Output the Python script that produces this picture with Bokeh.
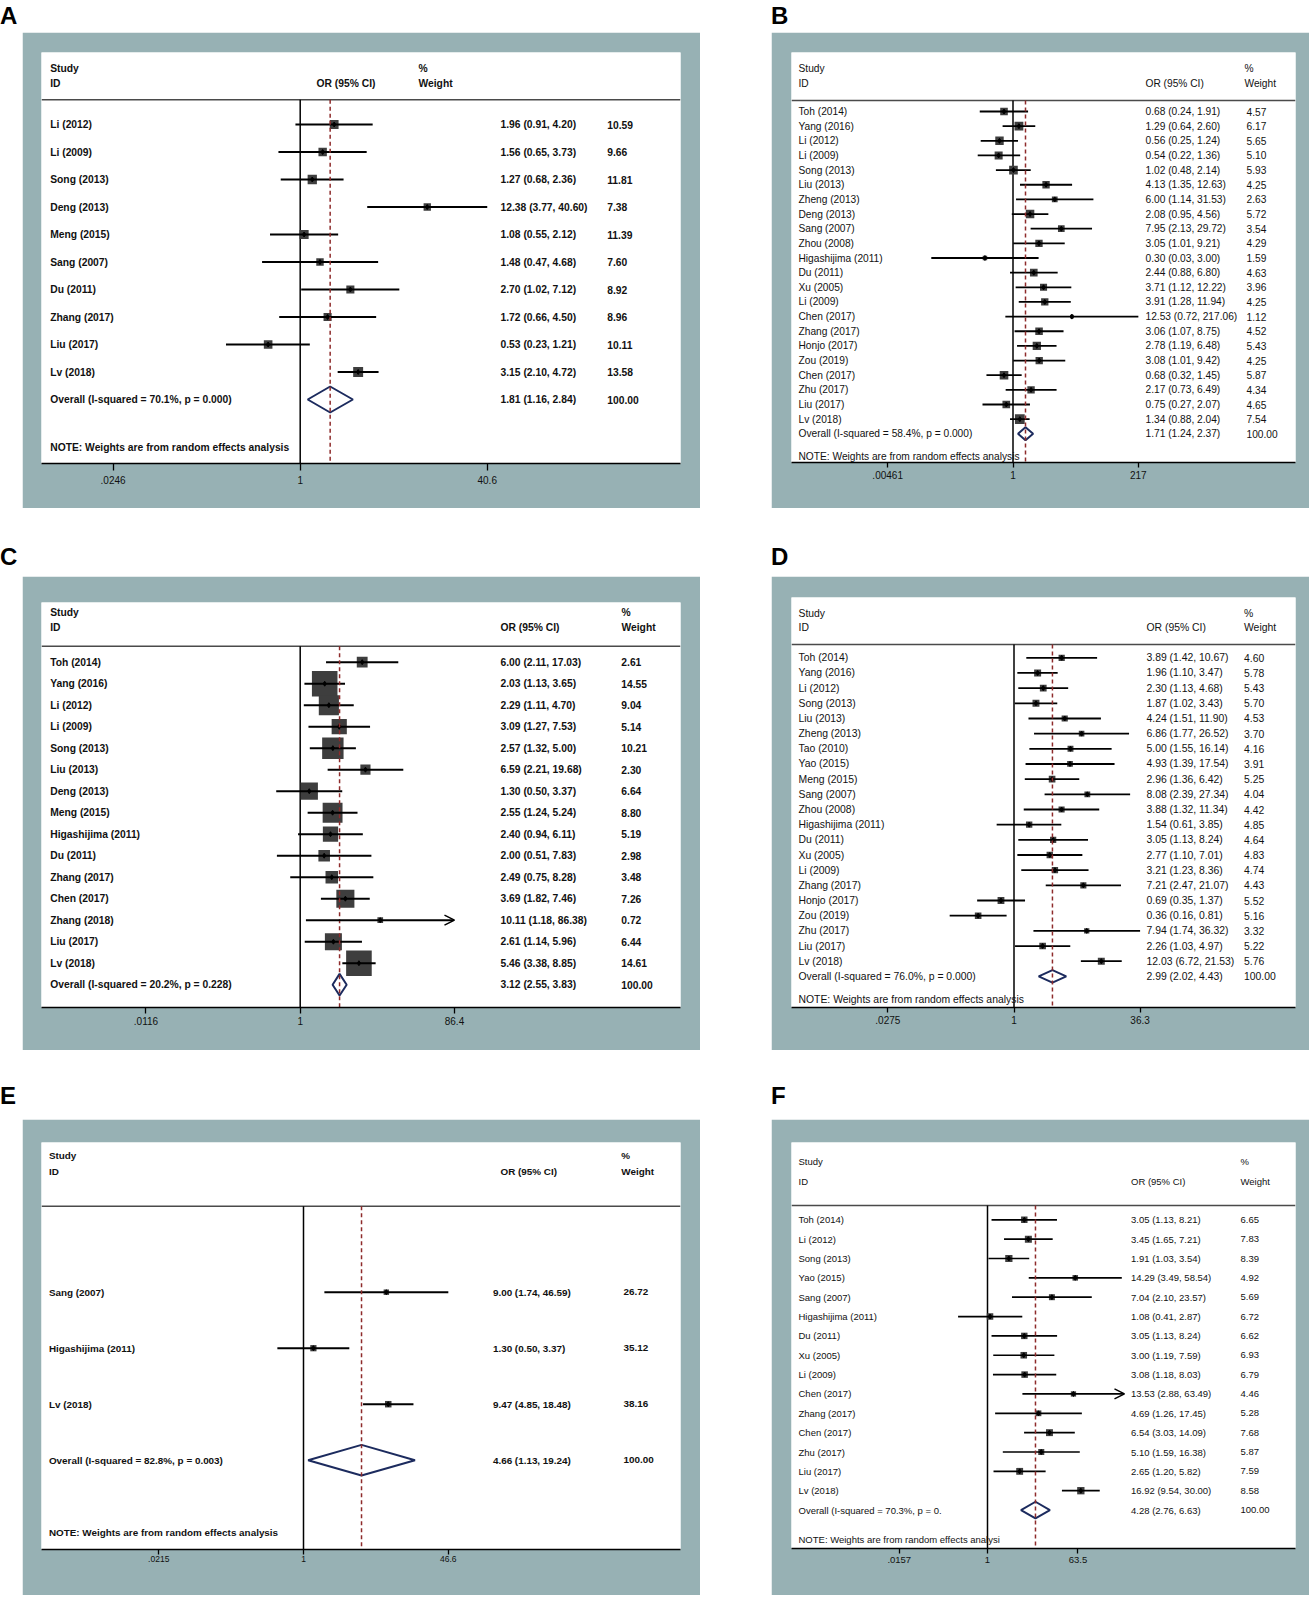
import math
from bokeh.plotting import figure
from bokeh.models import (Range1d, LinearScale, FixedTicker, ColumnDataSource, Arrow, OpenHead,
                          Div, Spacer)
from bokeh.layouts import row, column
from bokeh.core.properties import value
from bokeh.embed import file_html
from bokeh.resources import INLINE

# ------------------------------------------------------------------ data
a_names = ["Li (2012)", "Li (2009)", "Song (2013)", "Deng (2013)", "Meng (2015)", "Sang (2007)",
           "Du (2011)", "Zhang (2017)", "Liu (2017)", "Lv (2018)"]
a_or = [1.96, 1.56, 1.27, 12.38, 1.08, 1.48, 2.70, 1.72, 0.53, 3.15]
a_lo = [0.91, 0.65, 0.68, 3.77, 0.55, 0.47, 1.02, 0.66, 0.23, 2.10]
a_hi = [4.20, 3.73, 2.36, 40.60, 2.12, 4.68, 7.12, 4.50, 1.21, 4.72]
a_wt = [10.59, 9.66, 11.81, 7.38, 11.39, 7.60, 8.92, 8.96, 10.11, 13.58]
a_arrow = [False] * 10
a_overall = [1.81, 1.16, 2.84]
a_overall_label = "Overall (I-squared = 70.1%, p = 0.000)"
a_ticks = [0.0246, 1.0, 40.6]
a_tick_labels = [".0246", "1", "40.6"]

b_names = ["Toh (2014)", "Yang (2016)", "Li (2012)", "Li (2009)", "Song (2013)", "Liu (2013)",
           "Zheng (2013)", "Deng (2013)", "Sang (2007)", "Zhou (2008)", "Higashijima (2011)",
           "Du (2011)", "Xu (2005)", "Li (2009)", "Chen (2017)", "Zhang (2017)", "Honjo (2017)",
           "Zou (2019)", "Chen (2017)", "Zhu (2017)", "Liu (2017)", "Lv (2018)"]
b_or = [0.68, 1.29, 0.56, 0.54, 1.02, 4.13, 6.00, 2.08, 7.95, 3.05, 0.30, 2.44, 3.71, 3.91,
        12.53, 3.06, 2.78, 3.08, 0.68, 2.17, 0.75, 1.34]
b_lo = [0.24, 0.64, 0.25, 0.22, 0.48, 1.35, 1.14, 0.95, 2.13, 1.01, 0.03, 0.88, 1.12, 1.28,
        0.72, 1.07, 1.19, 1.01, 0.32, 0.73, 0.27, 0.88]
b_hi = [1.91, 2.60, 1.24, 1.36, 2.14, 12.63, 31.53, 4.56, 29.72, 9.21, 3.00, 6.80, 12.22, 11.94,
        217.06, 8.75, 6.48, 9.42, 1.45, 6.49, 2.07, 2.04]
b_wt = [4.57, 6.17, 5.65, 5.10, 5.93, 4.25, 2.63, 5.72, 3.54, 4.29, 1.59, 4.63, 3.96, 4.25,
        1.12, 4.52, 5.43, 4.25, 5.87, 4.34, 4.65, 7.54]
b_arrow = [False] * 22
b_overall = [1.71, 1.24, 2.37]
b_overall_label = "Overall (I-squared = 58.4%, p = 0.000)"
b_ticks = [0.00461, 1.0, 217.0]
b_tick_labels = [".00461", "1", "217"]

c_names = ["Toh (2014)", "Yang (2016)", "Li (2012)", "Li (2009)", "Song (2013)", "Liu (2013)",
           "Deng (2013)", "Meng (2015)", "Higashijima (2011)", "Du (2011)", "Zhang (2017)",
           "Chen (2017)", "Zhang (2018)", "Liu (2017)", "Lv (2018)"]
c_or = [6.00, 2.03, 2.29, 3.09, 2.57, 6.59, 1.30, 2.55, 2.40, 2.00, 2.49, 3.69, 10.11, 2.61, 5.46]
c_lo = [2.11, 1.13, 1.11, 1.27, 1.32, 2.21, 0.50, 1.24, 0.94, 0.51, 0.75, 1.82, 1.18, 1.14, 3.38]
c_hi = [17.03, 3.65, 4.70, 7.53, 5.00, 19.68, 3.37, 5.24, 6.11, 7.83, 8.28, 7.46, 86.38, 5.96, 8.85]
c_wt = [2.61, 14.55, 9.04, 5.14, 10.21, 2.30, 6.64, 8.80, 5.19, 2.98, 3.48, 7.26, 0.72, 6.44, 14.61]
c_arrow = [False] * 12 + [True] + [False] * 2
c_overall = [3.12, 2.55, 3.83]
c_overall_label = "Overall (I-squared = 20.2%, p = 0.228)"
c_ticks = [0.0116, 1.0, 86.4]
c_tick_labels = [".0116", "1", "86.4"]

d_names = ["Toh (2014)", "Yang (2016)", "Li (2012)", "Song (2013)", "Liu (2013)", "Zheng (2013)",
           "Tao (2010)", "Yao (2015)", "Meng (2015)", "Sang (2007)", "Zhou (2008)",
           "Higashijima (2011)", "Du (2011)", "Xu (2005)", "Li (2009)", "Zhang (2017)",
           "Honjo (2017)", "Zou (2019)", "Zhu (2017)", "Liu (2017)", "Lv (2018)"]
d_or = [3.89, 1.96, 2.30, 1.87, 4.24, 6.86, 5.00, 4.93, 2.96, 8.08, 3.88, 1.54, 3.05, 2.77,
        3.21, 7.21, 0.69, 0.36, 7.94, 2.26, 12.03]
d_lo = [1.42, 1.10, 1.13, 1.02, 1.51, 1.77, 1.55, 1.39, 1.36, 2.39, 1.32, 0.61, 1.13, 1.10,
        1.23, 2.47, 0.35, 0.16, 1.74, 1.03, 6.72]
d_hi = [10.67, 3.47, 4.68, 3.43, 11.90, 26.52, 16.14, 17.54, 6.42, 27.34, 11.34, 3.85, 8.24,
        7.01, 8.36, 21.07, 1.37, 0.81, 36.32, 4.97, 21.53]
d_wt = [4.60, 5.78, 5.43, 5.70, 4.53, 3.70, 4.16, 3.91, 5.25, 4.04, 4.42, 4.85, 4.64, 4.83,
        4.74, 4.43, 5.52, 5.16, 3.32, 5.22, 5.76]
d_arrow = [False] * 21
d_overall = [2.99, 2.02, 4.43]
d_overall_label = "Overall (I-squared = 76.0%, p = 0.000)"
d_ticks = [0.0275, 1.0, 36.3]
d_tick_labels = [".0275", "1", "36.3"]

e_names = ["Sang (2007)", "Higashijima (2011)", "Lv (2018)"]
e_or = [9.00, 1.30, 9.47]
e_lo = [1.74, 0.50, 4.85]
e_hi = [46.59, 3.37, 18.48]
e_wt = [26.72, 35.12, 38.16]
e_arrow = [False] * 3
e_overall = [4.66, 1.13, 19.24]
e_overall_label = "Overall (I-squared = 82.8%, p = 0.003)"
e_ticks = [0.0215, 1.0, 46.6]
e_tick_labels = [".0215", "1", "46.6"]

f_names = ["Toh (2014)", "Li (2012)", "Song (2013)", "Yao (2015)", "Sang (2007)",
           "Higashijima (2011)", "Du (2011)", "Xu (2005)", "Li (2009)", "Chen (2017)",
           "Zhang (2017)", "Chen (2017)", "Zhu (2017)", "Liu (2017)", "Lv (2018)"]
f_or = [3.05, 3.45, 1.91, 14.29, 7.04, 1.08, 3.05, 3.00, 3.08, 13.53, 4.69, 6.54, 5.10, 2.65, 16.92]
f_lo = [1.13, 1.65, 1.03, 3.49, 2.10, 0.41, 1.13, 1.19, 1.18, 2.88, 1.26, 3.03, 1.59, 1.20, 9.54]
f_hi = [8.21, 7.21, 3.54, 58.54, 23.57, 2.87, 8.24, 7.59, 8.03, 63.49, 17.45, 14.09, 16.38, 5.82, 30.00]
f_wt = [6.65, 7.83, 8.39, 4.92, 5.69, 6.72, 6.62, 6.93, 6.79, 4.46, 5.28, 7.68, 5.87, 7.59, 8.58]
f_arrow = [False] * 9 + [True] + [False] * 5
f_overall = [4.28, 2.76, 6.63]
f_overall_label = "Overall (I-squared = 70.3%, p = 0."
# in the reference the outer tick marks of panel F sit at these axis positions
f_ticks = [0.069, 1.0, 15.5]
f_tick_labels = [".0157", "1", "63.5"]

note_full = "NOTE: Weights are from random effects analysis"
note_cut = "NOTE: Weights are from random effects analysi"

# ------------------------------------------------------------------ style
GREY = "#97b1b4"
SQ = "#3e3e3e"
NAVY = "#1c2b5e"
RED = "#8e2b2b"
FONT = "Liberation Sans"

GA = dict(W=678, H=476, bl=19, br=20, bt=20, bb=45, first=72, step=27.5, x1=258.7, s=50.5,
          study_x=8.7, or_x=459, wt_x=565.7, orh_x=275, pct_x=377, y_study=16.3, y_id=30.7,
          hline=47.3, note_y=394.7, fs="10.3px", fw="bold", k=2.7, dh=13, lw=2.2, tick_out=7,
          standoff=5, tick_fs="10px")
GB = dict(W=538, H=476, bl=20, br=14, bt=20, bb=46, first=59, step=14.65, x1=221.5, s=23.3,
          study_x=7, or_x=354, wt_x=455, orh_x=354, pct_x=453, y_study=16.3, y_id=30.7,
          hline=48, note_y=403.5, fs="10.2px", fw="normal", k=3.55, dh=6.5, lw=1.8, tick_out=5,
          standoff=3, tick_fs="10px")
GC = dict(W=678, H=474, bl=19, br=20, bt=26, bb=43, first=59.7, step=21.5, x1=258.7, s=34.6,
          study_x=8.7, or_x=459, wt_x=579.8, orh_x=459, pct_x=580, y_study=9.7, y_id=25.3,
          hline=43.7, note_y=None, fs="10.3px", fw="bold", k=6.7, dh=10.8, lw=2.0, tick_out=6,
          standoff=3, tick_fs="10px")
GD = dict(W=538, H=474, bl=20, br=14, bt=21, bb=43, first=60.3, step=15.17, x1=222.5, s=35.1,
          study_x=7, or_x=355, wt_x=452.5, orh_x=355, pct_x=452.5, y_study=15.7, y_id=29.7,
          hline=47, note_y=402.3, fs="10.4px", fw="normal", k=2.9, dh=6.3, lw=1.8, tick_out=5,
          standoff=3, tick_fs="10px")
GE = dict(W=678, H=476, bl=19, br=20, bt=23, bb=46, first=149.7, step=56, x1=262, s=37.7,
          study_x=7.4, or_x=451.4, wt_x=582, orh_x=459, pct_x=579.8, y_study=13, y_id=28.7,
          hline=63.7, note_y=390.3, fs="9.9px", fw="bold", k=1.05, dh=15.3, lw=2.0, tick_out=5,
          standoff=1, tick_fs="8.5px")
GF = dict(W=538, H=476, bl=20, br=14, bt=23, bb=47, first=77.3, step=19.35, x1=196, s=33,
          study_x=7, or_x=339.5, wt_x=449, orh_x=339.5, pct_x=449, y_study=19, y_id=38.7,
          hline=63, note_y=397.3, fs="9.5px", fw="normal", k=2.5, dh=8.3, lw=1.7, tick_out=5,
          standoff=3, tick_fs="9.5px")


def fmt_ci(o, lo, hi):
    return f"{o:.2f} ({lo:.2f}, {hi:.2f})"


def forest(names, ors, los, his, wts, arrows, overall, overall_label, ticks, tick_labels, note, g):
    fw = g["W"] - g["bl"] - g["br"]
    fh = g["H"] - g["bt"] - g["bb"]
    s, x1 = g["s"], g["x1"]
    first, step = g["first"], g["step"]
    p = figure(width=g["W"], height=g["H"], x_axis_type="log",
               x_range=Range1d(math.exp(-x1 / s), math.exp((fw - x1) / s)),
               y_range=Range1d((fh - first) / step, -first / step),
               y_axis_location=None, toolbar_location=None, output_backend="svg",
               min_border_left=g["bl"], min_border_right=g["br"],
               min_border_top=g["bt"], min_border_bottom=g["bb"],
               background_fill_color="white", border_fill_color=GREY,
               outline_line_color=None, margin=(0, 0, 0, 0))
    p.extra_x_ranges = {"px": Range1d(0, fw)}
    p.extra_x_scales = {"px": LinearScale()}
    p.extra_y_ranges = {"py": Range1d(fh, 0)}
    p.extra_y_scales = {"py": LinearScale()}
    p.grid.visible = False

    n = len(names)
    idx = list(range(n))
    font = value(FONT)
    fs = value(g["fs"])
    fwt = g["fw"]

    # header separator and reference line at OR = 1
    p.segment(x0=[0], x1=[fw], y0=[g["hline"]], y1=[g["hline"]], x_range_name="px",
              y_range_name="py", line_color="#4a4a4a", line_width=1.5)
    p.segment(x0=[1.0], x1=[1.0], y0=[g["hline"]], y1=[fh], y_range_name="py",
              line_color="black", line_width=1.5)

    src = ColumnDataSource(dict(y=idx, o=ors, lo=los, hi=his,
                                size=[g["k"] * math.sqrt(w) for w in wts]))
    p.scatter("o", "y", source=src, marker="square", size="size", fill_color=SQ,
              line_color=None)

    plain = [i for i in idx if not arrows[i]]
    arr = [i for i in idx if arrows[i]]
    seg = ColumnDataSource(dict(y=plain, lo=[los[i] for i in plain], hi=[his[i] for i in plain]))
    p.segment("lo", "y", "hi", "y", source=seg, line_color="black", line_width=g["lw"])
    if arr:
        asrc = ColumnDataSource(dict(y=arr, lo=[los[i] for i in arr], hi=[his[i] for i in arr]))
        p.add_layout(Arrow(end=OpenHead(size=10, line_width=1.5, line_color="black"),
                           x_start="lo", y_start="y", x_end="hi", y_end="y", source=asrc,
                           line_color="black", line_width=g["lw"]))
    p.scatter("o", "y", source=src, marker="diamond", size=5, color="black")

    # pooled estimate diamond
    o, lo, hi = overall
    hh = g["dh"] / step
    p.patch(x=[lo, o, hi, o], y=[n, n - hh, n, n + hh], fill_color="white",
            line_color=NAVY, line_width=2)
    p.segment(x0=[o], x1=[o], y0=[g["hline"]], y1=[fh], y_range_name="py",
              line_color=RED, line_width=1.5, line_dash="4 3")

    # row texts
    tsrc = ColumnDataSource(dict(
        y=idx + [n],
        name=list(names) + [overall_label],
        ci=[fmt_ci(a, b, c) for a, b, c in zip(ors, los, his)] + [fmt_ci(o, lo, hi)],
        wt=[f"{w:.2f}" for w in wts] + ["100.00"]))
    for col, xx in (("name", g["study_x"]), ("ci", g["or_x"]), ("wt", g["wt_x"])):
        p.text(x=xx, y="y", text=col, source=tsrc, x_range_name="px", text_font=font,
               text_font_size=fs, text_font_style=fwt, text_baseline="middle",
               text_color="#111111")

    # header texts
    hx = [g["study_x"], g["study_x"], g["orh_x"], g["pct_x"], g["pct_x"]]
    hy = [g["y_study"], g["y_id"], g["y_id"], g["y_study"], g["y_id"]]
    ht = ["Study", "ID", "OR (95% CI)", "%", "Weight"]
    if note:
        hx.append(g["study_x"])
        hy.append(g["note_y"])
        ht.append(note)
    p.text(x=hx, y=hy, text=ht, x_range_name="px", y_range_name="py", text_font=font,
           text_font_size=fs, text_font_style=fwt, text_baseline="middle",
           text_color="#111111")

    ax = p.xaxis[0]
    ax.ticker = FixedTicker(ticks=ticks, minor_ticks=[])
    ax.major_label_overrides = {t: l for t, l in zip(ticks, tick_labels)}
    ax.axis_line_color = "black"
    ax.axis_line_width = 1.6
    ax.major_tick_in = 0
    ax.major_tick_out = g["tick_out"]
    ax.major_tick_line_width = 1.3
    ax.minor_tick_line_color = None
    ax.major_label_standoff = g["standoff"]
    ax.major_label_text_font = FONT
    ax.major_label_text_font_size = g["tick_fs"]
    ax.major_label_text_color = "#111111"
    return p


pA = forest(a_names, a_or, a_lo, a_hi, a_wt, a_arrow, a_overall, a_overall_label,
            a_ticks, a_tick_labels, note_full, GA)
pB = forest(b_names, b_or, b_lo, b_hi, b_wt, b_arrow, b_overall, b_overall_label,
            b_ticks, b_tick_labels, note_full, GB)
pC = forest(c_names, c_or, c_lo, c_hi, c_wt, c_arrow, c_overall, c_overall_label,
            c_ticks, c_tick_labels, None, GC)
pD = forest(d_names, d_or, d_lo, d_hi, d_wt, d_arrow, d_overall, d_overall_label,
            d_ticks, d_tick_labels, note_full, GD)
pE = forest(e_names, e_or, e_lo, e_hi, e_wt, e_arrow, e_overall, e_overall_label,
            e_ticks, e_tick_labels, note_full, GE)
pF = forest(f_names, f_or, f_lo, f_hi, f_wt, f_arrow, f_overall, f_overall_label,
            f_ticks, f_tick_labels, note_cut, GF)


def letter(t, w, h):
    return Div(text=('<div style="font-family: \'Liberation Sans\', Arial, sans-serif; '
                     'font-size: 24px; font-weight: bold; line-height: %dpx; color: #000;">' % h
                     + t + '</div>'), width=w, height=h, margin=(0, 0, 0, 0))


def sp(w, h):
    return Spacer(width=w, height=h, margin=(0, 0, 0, 0))


LW, RW, GAP = 700, 538, 71


def left_cell(pre, lab, lab_h, post, fig):
    kids = ([sp(LW, pre)] if pre else []) + [letter(lab, LW, lab_h)]
    kids += ([sp(LW, post)] if post else []) + [row(sp(22, fig.height), fig, spacing=0)]
    return column(*kids, spacing=0)


def right_cell(pre, lab, lab_h, post, fig):
    kids = ([sp(RW, pre)] if pre else []) + [letter(lab, RW, lab_h)]
    kids += ([sp(RW, post)] if post else []) + [fig]
    return column(*kids, spacing=0)


layout = column(
    row(left_cell(0, "A", 32, 0, pA), sp(GAP, 10), right_cell(0, "B", 32, 0, pB), spacing=0),
    row(left_cell(29, "C", 39, 0, pC), sp(GAP, 10), right_cell(29, "D", 39, 0, pD), spacing=0),
    row(left_cell(26, "E", 39, 4, pE), sp(GAP, 10), right_cell(26, "F", 39, 4, pF), spacing=0),
    spacing=0)

open("out.html", "w").write(file_html(layout, INLINE))
